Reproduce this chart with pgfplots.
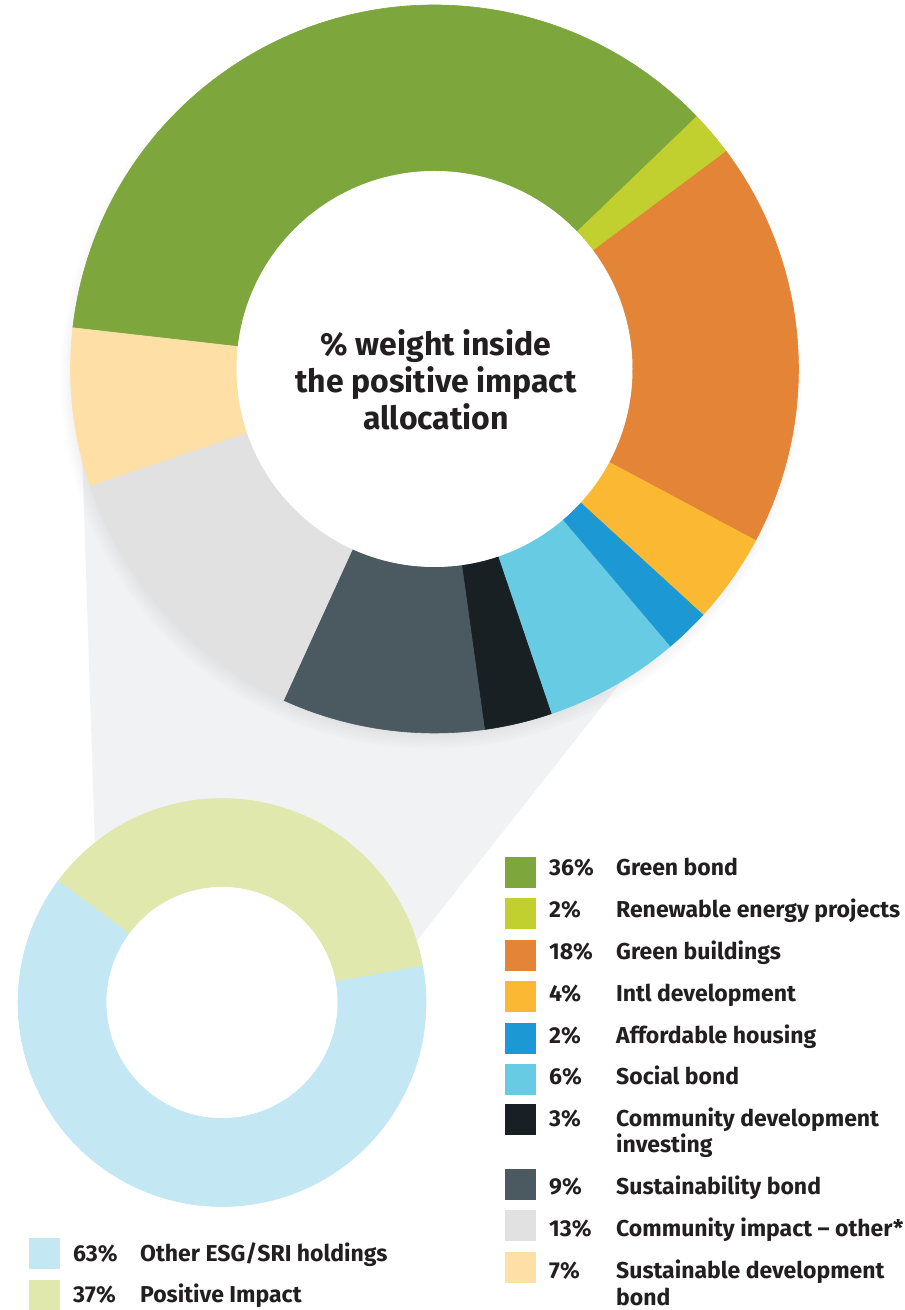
\documentclass[border=0pt]{standalone}
\usepackage{pgfplots}
\pgfplotsset{compat=1.18}
\usepackage{fontspec}
\setmainfont{Fira Sans}
\usetikzlibrary{shadows}
\definecolor{cGreen}{HTML}{7DA63C}
\definecolor{cRen}{HTML}{C1D02E}
\definecolor{cBld}{HTML}{E38437}
\definecolor{cIntl}{HTML}{FBB832}
\definecolor{cAff}{HTML}{1C99D4}
\definecolor{cSoc}{HTML}{67CCE3}
\definecolor{cCdi}{HTML}{182024}
\definecolor{cSus}{HTML}{4A5A60}
\definecolor{cCio}{HTML}{E1E1E1}
\definecolor{cSdb}{HTML}{FEDFA6}
\definecolor{cOth}{HTML}{C3E7F3}
\definecolor{cPos}{HTML}{E1E8AD}
\definecolor{cBg}{HTML}{F1F2F4}
\definecolor{cTxt}{HTML}{231F20}
\newcommand\fsLeg{\fontsize{23}{27}\selectfont\bfseries}
\newcommand\fsCen{\fontsize{32}{37}\selectfont\bfseries}
% big donut segment: start (cumulative %), value (%), colour
\newcommand\bigseg[3]{%
  \fill[#3, draw=#3, line width=0.6pt] (axis cs:434.5,941) ++({173.5-3.6*#1}:364pt)
    arc[start angle={173.5-3.6*#1}, end angle={173.5-3.6*(#1+#2)}, radius=364pt]
    -- ++({173.5-3.6*(#1+#2)+180}:166pt)
    arc[start angle={173.5-3.6*(#1+#2)}, end angle={173.5-3.6*#1}, radius=198pt]
    -- cycle;}
\newcommand\smallseg[3]{%
  \fill[#3, draw=#3, line width=0.6pt] (axis cs:222,307.5) ++({143.5-3.6*#1}:204pt)
    arc[start angle={143.5-3.6*#1}, end angle={143.5-3.6*(#1+#2)}, radius=204pt]
    -- ++({143.5-3.6*(#1+#2)+180}:88pt)
    arc[start angle={143.5-3.6*(#1+#2)}, end angle={143.5-3.6*#1}, radius=116pt]
    -- cycle;}
% legend row: box x, box top y (pixels from top), colour, text baseline y, percent, label
\newcommand\legrow[6]{%
  \fill[#3] (axis cs:#1,{1310-#2}) rectangle (axis cs:{#1+31},{1310-#2-31});
  \node[anchor=base west, inner sep=0pt, font=\fsLeg, text=cTxt] at (axis cs:{#1+44},{1310-#4}) {#5};
  \node[anchor=base west, inner sep=0pt, font=\fsLeg, text=cTxt] at (axis cs:{#1+111},{1310-#4}) {#6};}
\newcommand\legline[3]{%
  \node[anchor=base west, inner sep=0pt, font=\fsLeg, text=cTxt] at (axis cs:{#1+111},{1310-#2}) {#3};}
\begin{document}
\begin{tikzpicture}
\begin{axis}[x=1pt, y=1pt, xmin=0, xmax=905, ymin=0, ymax=1310,
  hide axis, clip=false, scale only axis, anchor=south west, at={(0,0)}]
% connecting band
\fill[cBg] (axis cs:81,890) -- (axis cs:434,660) -- (axis cs:686,710)
  -- (axis cs:370,310) -- (axis cs:100,310) -- cycle;
% big donut base with shadow
\fill[white, circular drop shadow={shadow xshift=-3pt, shadow yshift=-8pt, shadow scale=1.02, opacity=0.45}]
  (axis cs:434.5,941) circle[radius=364pt];
\bigseg{0}{36}{cGreen}
\bigseg{36}{2}{cRen}
\bigseg{38}{18}{cBld}
\bigseg{56}{4}{cIntl}
\bigseg{60}{2}{cAff}
\bigseg{62}{6}{cSoc}
\bigseg{68}{3}{cCdi}
\bigseg{71}{9}{cSus}
\bigseg{80}{13}{cCio}
\bigseg{93}{7}{cSdb}
\fill[white] (axis cs:434.5,941) circle[radius=198pt];
\node[align=center, inner sep=0pt, font=\fsCen, text=cTxt] at (axis cs:436,930)
  {\% weight inside\\the positive impact\\allocation};
% small donut
\fill[white] (axis cs:222,307.5) circle[radius=116pt];
\smallseg{0}{37}{cPos}
\smallseg{37}{63}{cOth}
% legends
\legrow{505}{857}{cGreen}{876}{36\%}{Green bond}
\legrow{505}{898}{cRen}{918}{2\%}{Renewable energy projects}
\legrow{505}{940}{cBld}{960}{18\%}{Green buildings}
\legrow{505}{981}{cIntl}{1002}{4\%}{Intl development}
\legrow{505}{1023}{cAff}{1044}{2\%}{Affordable housing}
\legrow{505}{1064}{cSoc}{1085}{6\%}{Social bond}
\legrow{505}{1104}{cCdi}{1127}{3\%}{Community development}
\legline{505}{1153}{investing}
\legrow{505}{1169}{cSus}{1195}{9\%}{Sustainability bond}
\legrow{505}{1210}{cCio}{1237}{13\%}{Community impact – other*}
\legrow{505}{1252}{cSdb}{1279}{7\%}{Sustainable development}
\legline{505}{1305}{bond}
\legrow{29}{1238}{cOth}{1262}{63\%}{Other ESG/SRI holdings}
\legrow{29}{1280}{cPos}{1303}{37\%}{Positive Impact}
\end{axis}
\pgfresetboundingbox
\path (0,0) rectangle (905pt,1310pt);
\end{tikzpicture}
\end{document}
